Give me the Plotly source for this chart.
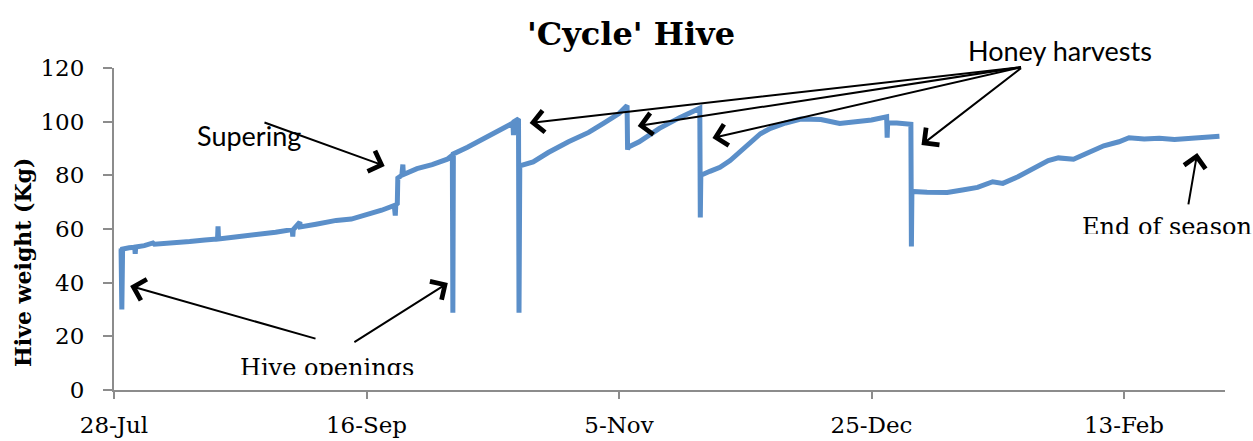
import pandas as pd
import plotly.graph_objects as go

# ---- data ----
season_start = "2013-07-28"
day_offset = [1.30, 1.40, 1.55, 1.70, 3.0, 4.1, 4.2, 4.3, 6.0, 7.7, 8.0, 10.0, 12.0, 15.0, 18.0,
              20.5, 20.6, 20.7, 24.0, 28.0, 32.0, 35.3, 35.4, 35.5, 36.8, 36.9, 40.0, 44.0, 47.0,
              50.0, 53.0, 55.5, 55.7, 55.8, 56.1, 56.2, 57.0, 57.2, 57.3, 60.0, 63.0, 66.0, 67.0,
              67.1, 67.2, 70.0, 74.0, 77.0, 79.0, 79.1, 79.2, 80.1, 80.2, 80.35, 83.0, 86.0, 90.0,
              94.0, 97.0, 100.0, 101.6, 101.7, 101.8, 104.0, 108.0, 112.0, 116.0, 116.1, 116.2,
              118.0, 120.0, 122.0, 124.0, 126.0, 128.0, 130.0, 133.0, 136.0, 140.0, 143.7, 147.0,
              150.0, 153.0, 153.1, 153.2, 155.0, 157.8, 157.9, 158.0, 161.0, 165.0, 168.0, 171.0,
              174.0, 176.0, 179.0, 182.0, 185.0, 187.0, 190.0, 193.0, 196.0, 199.0, 201.0, 204.0,
              207.0, 210.0, 213.0, 216.0, 218.9]
weight_kg = [52.0, 52.3, 30.0, 52.5, 53.0, 53.2, 50.8, 53.3, 53.8, 54.8, 54.3, 54.5, 54.6, 55.3, 55.9,
             56.3, 61.0, 56.3, 57.0, 57.8, 58.8, 59.8, 57.2, 59.8, 62.5, 60.8, 61.8, 63.2, 63.7,
             65.2, 67.0, 68.8, 65.0, 69.0, 69.5, 79.0, 80.0, 84.0, 80.3, 82.5, 84.0, 86.0, 87.5,
             28.8, 88.0, 90.5, 94.5, 97.5, 99.5, 95.0, 100.0, 101.0, 28.8, 83.5, 85.0, 88.5, 92.5,
             96.0, 99.5, 103.0, 106.0, 89.5, 90.5, 92.5, 97.5, 101.5, 105.0, 64.3, 80.0,
             81.5, 83.0, 85.5, 89.0, 92.5, 95.5, 97.5, 99.5, 101.0, 100.8, 99.3, 99.8,
             100.6, 101.8, 94.0, 99.5, 99.5, 99.0, 53.5, 74.0, 73.7, 73.6, 74.5, 75.5,
             77.6, 77.0, 79.5, 82.5, 85.5, 86.5, 86.0, 88.5, 91.0, 92.5, 94.0, 93.5,
             93.8, 93.4, 93.9, 94.5, 94.6]

tick_days = [0, 50, 100, 150, 200]
tick_labels = ["28-Jul", "16-Sep", "5-Nov", "25-Dec", "13-Feb"]
axis_end_day = 220

base = pd.Timestamp(season_start)


def d(day):
    return base + pd.to_timedelta(day, unit="D")


dates = [d(v) for v in day_offset]

SERIF = "DejaVu Serif"
SANS = "Lato"
AXIS_GREY = "#8c8c8c"
W, H = 1253, 441
ML, MR, MT, MB = 114, 28, 68, 51
PW, PH = W - ML - MR, H - MT - MB


def px_x(px):
    return (px - ML) / PW


def px_y(py):
    return (H - MB - py) / PH


fig = go.Figure()
fig.add_trace(go.Scatter(
    x=dates, y=weight_kg, mode="lines",
    line=dict(color="#5b8fc9", width=5),
    showlegend=False, hoverinfo="skip",
))

# ---- annotations (arrows) ----
def arrow(tail, head, width=2.0, size=2.1):
    fig.add_annotation(
        x=d(head[0]), y=head[1], ax=d(tail[0]), ay=tail[1],
        xref="x", yref="y", axref="x", ayref="y",
        text="", showarrow=True, arrowhead=4, arrowsize=size,
        arrowwidth=width, arrowcolor="black",
    )

honey_origin = (179.9, 120.4)
for tip in [(82.3, 99.5), (103.7, 98.4), (118.5, 93.9), (159.9, 91.3)]:
    arrow(honey_origin, tip)
arrow((40.2, 19.0), (3.2, 38.8))
arrow((47.3, 17.5), (66.1, 39.9))
arrow((212.7, 68.6), (214.5, 88.3))
arrow((29.5, 99.9), (53.6, 83.5))

fig.add_annotation(x=px_x(195), y=px_y(135), xref="paper", yref="paper",
                   xanchor="left", yanchor="middle",
                   text="Supering", showarrow=False,
                   font=dict(family=SANS, size=27, color="black"))
fig.add_annotation(x=px_x(966), y=px_y(50), xref="paper", yref="paper",
                   xanchor="left", yanchor="middle",
                   text="Honey harvests", showarrow=False,
                   font=dict(family=SANS, size=27, color="black"))
fig.add_annotation(x=px_x(238), y=px_y(352), xref="paper", yref="paper",
                   xanchor="left", yanchor="top",
                   text="Hive openings", showarrow=False, height=21, valign="top",
                   font=dict(family=SERIF, size=24, color="black"))
fig.add_annotation(x=px_x(1080), y=px_y(211), xref="paper", yref="paper",
                   xanchor="left", yanchor="top",
                   text="End of season", showarrow=False, height=21, valign="top",
                   font=dict(family=SERIF, size=24, color="black"))
# y-axis title (placed like the original, slightly below the axis centre)
fig.add_annotation(x=px_x(23), y=px_y(263), xref="paper", yref="paper",
                   xanchor="center", yanchor="middle", textangle=-90,
                   text="<b>Hive weight (Kg)</b>", showarrow=False,
                   font=dict(family=SERIF, size=22, color="black"))

fig.update_layout(
    width=W, height=H,
    margin=dict(l=ML, r=MR, t=MT, b=MB, autoexpand=False),
    paper_bgcolor="white", plot_bgcolor="white",
    title=dict(text="<b>'Cycle' Hive</b>", x=px_x(631), xref="paper", xanchor="center",
               y=1 - 34 / H, yref="container", yanchor="middle",
               font=dict(family=SERIF, size=32, color="black")),
    xaxis=dict(
        range=[d(0), d(axis_end_day)], tickmode="array",
        tickvals=[d(t) for t in tick_days], ticktext=tick_labels,
        showgrid=False, zeroline=False, showline=True, linecolor=AXIS_GREY, linewidth=2,
        ticks="outside", ticklen=7, tickwidth=2, tickcolor=AXIS_GREY, automargin=False,
        tickfont=dict(family=SERIF, size=23, color="black"), ticklabelstandoff=6,
    ),
    yaxis=dict(
        range=[0, 120], tickmode="array", tickvals=[0, 20, 40, 60, 80, 100, 120],
        showgrid=False, zeroline=False, showline=True, linecolor=AXIS_GREY, linewidth=2,
        ticks="outside", ticklen=9, tickwidth=2, tickcolor=AXIS_GREY, automargin=False,
        tickfont=dict(family=SERIF, size=23, color="black"), ticklabelstandoff=14,
    ),
)

fig.write_html("out.html", config={"displayModeBar": False},
               post_script="document.body.style.margin='0';")
